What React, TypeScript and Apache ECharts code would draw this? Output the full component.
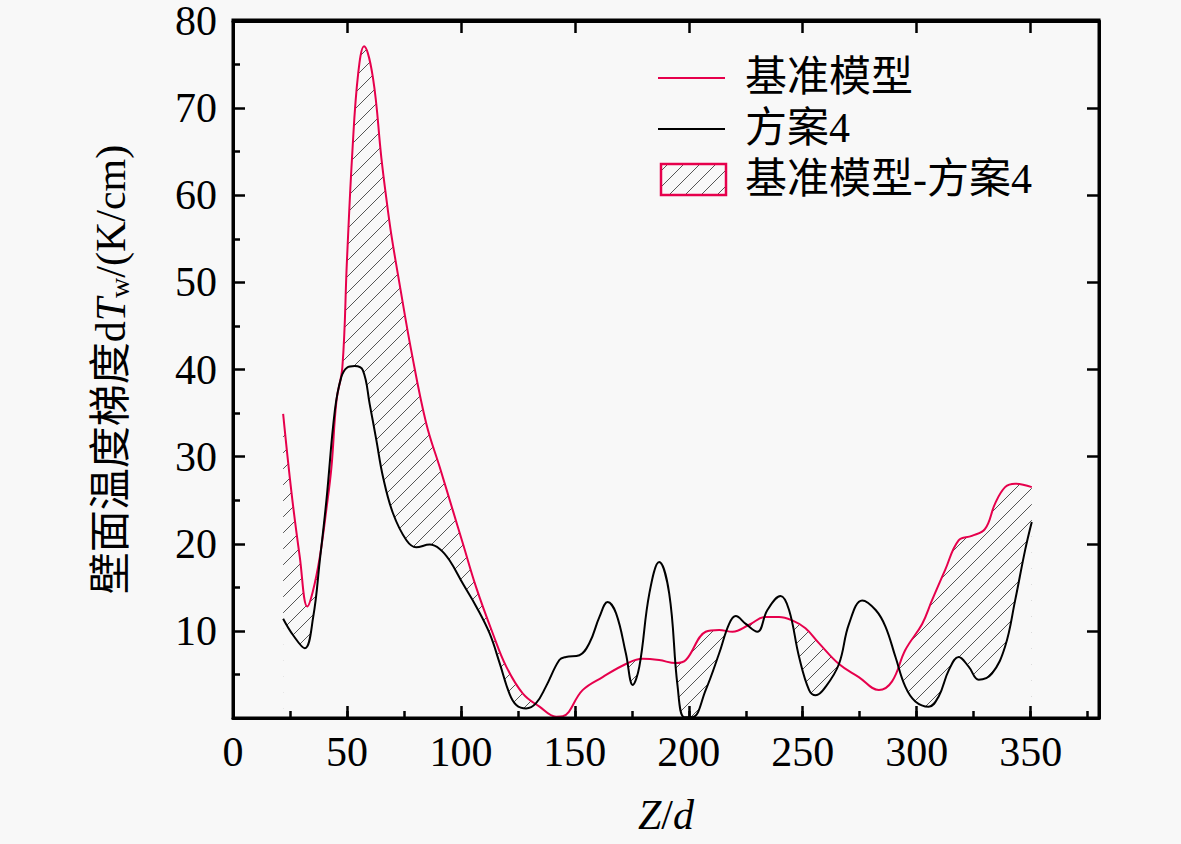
import React, { useEffect, useRef } from "react";
import * as echarts from "echarts";

// 基准模型 (baseline model): [Z/d, dTw]
const baseline: [number, number][] = [
  [22, 34.9], [25.7, 25.8], [29.3, 18.5], [32.6, 12.8], [35, 14.5], [38.1, 18.5],
  [41, 24], [43.2, 28.8], [45.4, 36.4], [48, 40.3], [50, 52.5], [52.4, 65.1],
  [54.9, 73.9], [57.5, 77.1], [61.4, 73.5], [65.1, 64.3], [67.2, 59.8], [69.4, 55.6],
  [73.1, 49.8], [78.2, 42.2], [84.8, 33.8], [90.7, 28.8], [96.5, 23.8], [100.9, 20],
  [106.7, 15], [114, 9.7], [119.9, 5.9], [127.2, 2.8], [134.5, 1.3], [141.8, 0.15],
  [144.7, 0.2], [153.4, 3.2], [162.2, 4.7], [172.4, 6.2], [179.7, 6.8], [187, 6.65],
  [194.3, 6.3], [198.7, 6.65], [207.4, 9.9], [213.3, 10.1], [219.2, 9.9], [226.5, 10.7],
  [233.7, 11.6], [239.6, 11.6], [245.4, 11.2], [251.2, 10.3], [257.1, 8.6], [265.9, 6.2],
  [274.6, 4.7], [283.4, 3.2], [289.2, 4.2], [295, 7.8], [302.4, 10.8], [306.7, 13.5],
  [312.5, 17], [318.4, 20.4], [324.2, 20.9], [330, 21.7], [334.4, 24.6], [338.8, 26.5],
  [343.2, 26.9], [350.5, 26.5],
];

// 方案4 (scheme 4): [Z/d, dTw]
const scheme4: [number, number][] = [
  [22, 11.4], [26.4, 9.5], [31.5, 8.0], [35.2, 11.6], [38.1, 18.1], [41, 25],
  [44.7, 35.3], [47.5, 39.1], [50, 40.2], [53.4, 40.4], [57, 39.9], [60, 36],
  [62.9, 31.9], [65.8, 27.7], [70.2, 23.5], [76.1, 20.4], [80.4, 19.6], [86.3, 19.9],
  [90.7, 19.4], [95, 18.1], [100.9, 15.4], [106.7, 12.8], [112.6, 9.7], [117, 6.3],
  [121.3, 2.8], [124.3, 1.5], [128.6, 1.1], [133, 1.7], [137.3, 3.6], [143.2, 6.65],
  [146.1, 7.0], [152, 7.2], [156.4, 8.6], [160.8, 11.6], [164.4, 13.3], [168.1, 12.0],
  [172.4, 7.4], [175.4, 3.8], [178.3, 5.9], [182.7, 14.3], [187, 17.9], [191.4, 14.3],
  [195.1, 3.6], [198, 0.1], [201.6, 0.1], [207.4, 3.2], [213.3, 7.4], [217.7, 10.8],
  [220.6, 11.7], [225, 10.8], [230.1, 9.9], [234.5, 12.4], [240.3, 14.0], [244, 12.4],
  [248.4, 7.0], [252.8, 3.2], [255.7, 2.6], [260.1, 3.6], [265.9, 6.2], [270.3, 10.8],
  [276.1, 13.5], [282, 12.4], [286.3, 10.5], [290.7, 7.0], [295, 3.6], [299.4, 1.9],
  [305.3, 1.3], [309.7, 2.5], [314.1, 5.5], [318.4, 7.0], [322.8, 5.9], [327.2, 4.4],
  [333, 5.1], [338.8, 8.2], [343.2, 13.5], [347.6, 19.3], [350.5, 22.5],
];

const seriesNames = ["基准模型", "方案4", "基准模型-方案4"];
const xTicks = { min: 0, max: 380, major: 50, minor: 25 };
const yTicks = { min: 0, max: 80, major: 10 };

const BG = "#f8f8f8";
const RED = "#e6004c";
const FONT = '"Liberation Serif", "Noto Sans CJK SC", serif';
const G = { left: 233, top: 20, right: 82, bottom: 126, W: 1181, H: 844 };

function makeHatch() {
  const s = 16;
  const c = document.createElement("canvas");
  c.width = s;
  c.height = s;
  const ctx = c.getContext("2d")!;
  ctx.strokeStyle = "#555";
  ctx.lineWidth = 1;
  for (const k of [-1, 0, 1]) {
    ctx.beginPath();
    ctx.moveTo(k * s, s);
    ctx.lineTo(k * s + s, 0);
    ctx.stroke();
  }
  return { image: c.toDataURL(), repeat: "repeat", imageWidth: s, imageHeight: s } as any;
}

export default function App() {
  const ref = useRef<HTMLDivElement>(null);
  useEffect(() => {
    const chart = echarts.init(ref.current!, undefined, { renderer: "svg" });
    const hatch = makeHatch();
    const axisLine = () => ({ show: true, onZero: false, lineStyle: { color: "#000", width: 3 } });
    const noLine = () => ({ show: false, onZero: false });
    const tick = (len: number) => ({ show: true, inside: true, length: len, lineStyle: { color: "#000", width: 2.5 } });
    const gx1 = G.left, gy1 = G.top, gx2 = G.W - G.right, gy2 = G.H - G.bottom;
    const option: any = {
      animation: false,
      backgroundColor: BG,
      grid: { left: G.left, top: G.top, right: G.right, bottom: G.bottom, containLabel: false },
      xAxis: [
        {
          type: "value", position: "bottom", min: xTicks.min, max: xTicks.max, interval: xTicks.major, z: 10,
          axisLine: axisLine(), axisTick: tick(12),
          axisLabel: { fontSize: 42, lineHeight: 40, fontFamily: FONT, color: "#000", margin: 14, showMaxLabel: false,
            formatter: (v: number) => (v % xTicks.major === 0 && v <= 350 ? String(v) : "") },
          splitLine: { show: false },
          name: "{i|Z}/{i|d}", nameLocation: "middle", nameGap: 76,
          nameTextStyle: { fontSize: 42, fontFamily: FONT, color: "#000",
            rich: { i: { fontSize: 42, fontFamily: FONT, fontStyle: "italic", color: "#000" } } },
        },
        {
          type: "value", position: "bottom", min: xTicks.min, max: xTicks.max, interval: xTicks.minor, z: 10,
          axisLine: noLine(), axisTick: tick(7),
          axisLabel: { show: false }, splitLine: { show: false },
        },
        {
          type: "value", position: "top", min: xTicks.min, max: xTicks.max, interval: xTicks.major, z: 10,
          axisLine: axisLine(), axisTick: tick(12),
          axisLabel: { show: false }, splitLine: { show: false },
        },
      ],
      yAxis: [
        {
          type: "value", position: "left", min: yTicks.min, max: yTicks.max, interval: yTicks.major, z: 10,
          axisLine: axisLine(), axisTick: tick(12),
          minorTick: { show: true, splitNumber: 2, length: 7, lineStyle: { color: "#000", width: 2.5 } },
          axisLabel: { fontSize: 42, lineHeight: 36, fontFamily: FONT, color: "#000", margin: 16,
            formatter: (v: number) => (v === 0 ? "" : String(v)) },
          splitLine: { show: false }, minorSplitLine: { show: false },
          name: "壁面温度梯度d{i|T}{s|w}/(K/cm)", nameLocation: "middle", nameGap: 100, nameRotate: 90,
          nameTextStyle: { fontSize: 42, fontFamily: FONT, color: "#000",
            rich: {
              i: { fontSize: 42, fontFamily: FONT, fontStyle: "italic", color: "#000" },
              s: { fontSize: 28, fontFamily: FONT, color: "#000", padding: [16, 0, 0, 0] },
            } },
        },
        {
          type: "value", position: "right", min: yTicks.min, max: yTicks.max, interval: yTicks.major, z: 10,
          axisLine: axisLine(), axisTick: tick(12),
          axisLabel: { show: false }, splitLine: { show: false },
        },
      ],
      series: [
        {
          name: seriesNames[2], type: "line", data: baseline, smooth: 0.4, symbol: "none", silent: true,
          lineStyle: { opacity: 0, width: 0 }, areaStyle: { color: hatch, opacity: 1 }, z: 1,
        },
        {
          name: "mask", type: "line", data: scheme4, smooth: 0.4, symbol: "none", silent: true,
          lineStyle: { opacity: 0, width: 0 }, areaStyle: { color: BG, opacity: 1 }, z: 1,
        },
        {
          name: seriesNames[0], type: "line", data: baseline, smooth: 0.4, symbol: "none",
          lineStyle: { color: RED, width: 2 }, z: 2,
        },
        {
          name: seriesNames[1], type: "line", data: scheme4, smooth: 0.4, symbol: "none",
          lineStyle: { color: "#000", width: 2 }, z: 2,
        },
      ],
      graphic: [
        // plot frame
        { type: "rect", z: 100, silent: true, shape: { x: gx1, y: gy1, width: gx2 - gx1, height: gy2 - gy1 },
          style: { fill: "none", stroke: "#000", lineWidth: 3 } },
        // legend
        { type: "line", shape: { x1: 658, y1: 78, x2: 725, y2: 78 }, style: { stroke: RED, lineWidth: 2 } },
        { type: "text", x: 745, y: 77, style: { text: seriesNames[0], font: `42px ${FONT}`, fill: "#000", verticalAlign: "middle" } },
        { type: "line", shape: { x1: 658, y1: 129, x2: 725, y2: 129 }, style: { stroke: "#000", lineWidth: 2 } },
        { type: "text", x: 745, y: 128, style: { text: seriesNames[1], font: `42px ${FONT}`, fill: "#000", verticalAlign: "middle" } },
        { type: "rect", shape: { x: 661, y: 164, width: 65, height: 31 }, style: { fill: hatch, stroke: RED, lineWidth: 2.5 } },
        { type: "text", x: 745, y: 179, style: { text: seriesNames[2], font: `42px ${FONT}`, fill: "#000", verticalAlign: "middle" } },
      ],
    };
    chart.setOption(option);
    return () => chart.dispose();
  }, []);
  return (
    <div
      ref={ref}
      style={{ position: "fixed", left: 0, top: 0, width: 1181, height: 844, background: BG }}
    />
  );
}
